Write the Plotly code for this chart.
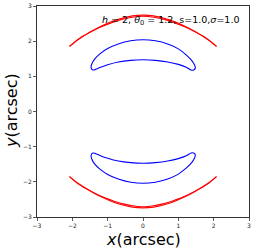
import plotly.graph_objects as go

# Red arcs (upper, two nearly coincident lines)
red_up_a_x = [-2.08, -1.8, -1.5, -1.2, -0.9, -0.6, -0.3, 0.0, 0.3, 0.6, 0.9, 1.2, 1.5, 1.8, 2.08]
red_up_a_y = [1.85, 2.07, 2.25, 2.40, 2.52, 2.62, 2.68, 2.71, 2.68, 2.62, 2.52, 2.40, 2.25, 2.07, 1.85]
red_up_b_x = [-2.08, -1.8, -1.5, -1.2, -0.9, -0.6, -0.3, 0.0, 0.3, 0.6, 0.9, 1.2, 1.5, 1.8, 2.08]
red_up_b_y = [1.85, 2.08, 2.26, 2.42, 2.55, 2.65, 2.72, 2.74, 2.72, 2.65, 2.55, 2.42, 2.26, 2.08, 1.85]
# Red arcs (lower)
red_lo_a_x = [-2.08, -1.8, -1.5, -1.2, -0.9, -0.6, -0.3, 0.0, 0.3, 0.6, 0.9, 1.2, 1.5, 1.8, 2.08]
red_lo_a_y = [-1.85, -2.07, -2.25, -2.40, -2.52, -2.62, -2.68, -2.71, -2.68, -2.62, -2.52, -2.40, -2.25, -2.07, -1.85]
red_lo_b_x = [-2.08, -1.8, -1.5, -1.2, -0.9, -0.6, -0.3, 0.0, 0.3, 0.6, 0.9, 1.2, 1.5, 1.8, 2.08]
red_lo_b_y = [-1.85, -2.08, -2.26, -2.42, -2.55, -2.65, -2.72, -2.74, -2.72, -2.65, -2.55, -2.42, -2.26, -2.08, -1.85]

# Blue crescents (closed loops)
blue_up_x = [-1.42, -1.47, -1.45, -1.37, -1.22, -1.0, -0.7, -0.35, 0.0, 0.35, 0.7, 1.0, 1.22, 1.37, 1.46, 1.48, 1.43,
             1.36, 1.24, 1.0, 0.7, 0.35, 0.0, -0.35, -0.7, -1.0, -1.22, -1.36, -1.42]
blue_up_y = [1.18, 1.25, 1.35, 1.49, 1.64, 1.79, 1.92, 2.01, 2.04, 2.01, 1.92, 1.78, 1.61, 1.46, 1.32, 1.23, 1.18,
             1.18, 1.25, 1.34, 1.41, 1.455, 1.47, 1.455, 1.41, 1.33, 1.25, 1.19, 1.18]
blue_lo_x = [-1.42, -1.47, -1.45, -1.37, -1.22, -1.0, -0.7, -0.35, 0.0, 0.35, 0.7, 1.0, 1.22, 1.37, 1.46, 1.48, 1.43,
             1.36, 1.24, 1.0, 0.7, 0.35, 0.0, -0.35, -0.7, -1.0, -1.22, -1.36, -1.42]
blue_lo_y = [-1.18, -1.25, -1.35, -1.49, -1.64, -1.79, -1.92, -2.01, -2.04, -2.01, -1.92, -1.78, -1.61, -1.46, -1.32, -1.23, -1.18,
             -1.18, -1.25, -1.34, -1.41, -1.455, -1.47, -1.455, -1.41, -1.33, -1.25, -1.19, -1.18]

tick_vals = [-3, -2, -1, 0, 1, 2, 3]
tick_text = ["\u22123", "\u22122", "\u22121", "0", "1", "2", "3"]

W, H = 256, 251
L, R, T, B = 37, 7, 6, 34
pw, ph = W - L - R, H - T - B

fig = go.Figure()
for xs, ys in [(red_up_a_x, red_up_a_y), (red_up_b_x, red_up_b_y),
               (red_lo_a_x, red_lo_a_y), (red_lo_b_x, red_lo_b_y)]:
    fig.add_trace(go.Scatter(x=xs, y=ys, mode="lines", line=dict(color="red", width=1.1, shape="spline"),
                             showlegend=False, hoverinfo="skip"))
for xs, ys in [(blue_up_x, blue_up_y), (blue_lo_x, blue_lo_y)]:
    fig.add_trace(go.Scatter(x=xs, y=ys, mode="lines", line=dict(color="blue", width=1.1, shape="spline", smoothing=0.8),
                             showlegend=False, hoverinfo="skip"))

axis_common = dict(range=[-3, 3], tickvals=tick_vals, ticktext=tick_text, showgrid=False, zeroline=False,
                   showline=True, linecolor="#333333", linewidth=1, mirror=True, ticks="outside", ticklen=3,
                   tickwidth=0.8, tickcolor="#333333", automargin=False, fixedrange=True,
                   tickfont=dict(family="DejaVu Sans", size=6, color="#222222"))

def px_x(p):
    return (p - L) / pw

def px_y(p):
    return 1 - (p - T) / ph

fig.update_layout(
    width=W, height=H,
    margin=dict(l=L, r=R, t=T, b=B, autoexpand=False),
    paper_bgcolor="white", plot_bgcolor="white",
    xaxis=dict(**axis_common),
    yaxis=dict(**axis_common),
    annotations=[
        dict(x=px_x(241), y=px_y(20), xref="paper", yref="paper", showarrow=False,
             text="<i>h</i> = 2, <i>θ</i><sub>0</sub> = 1.2, s=1.0,<i>σ</i>=1.0",
             font=dict(family="DejaVu Sans", size=9.5, color="black"), xanchor="right", yanchor="middle"),
        dict(x=px_x(143), y=px_y(240), xref="paper", yref="paper", showarrow=False,
             text="<i>x</i>(arcsec)", font=dict(family="DejaVu Sans", size=16, color="black"),
             xanchor="center", yanchor="middle"),
        dict(x=px_x(12), y=px_y(111), xref="paper", yref="paper", showarrow=False, textangle=-90,
             text="<i>y</i>(arcsec)", font=dict(family="DejaVu Sans", size=16, color="black"),
             xanchor="center", yanchor="middle"),
    ],
)
fig.write_html("out.html", config={"displayModeBar": False, "staticPlot": True},
               post_script="document.body.style.margin='0';document.body.style.overflow='hidden';")
